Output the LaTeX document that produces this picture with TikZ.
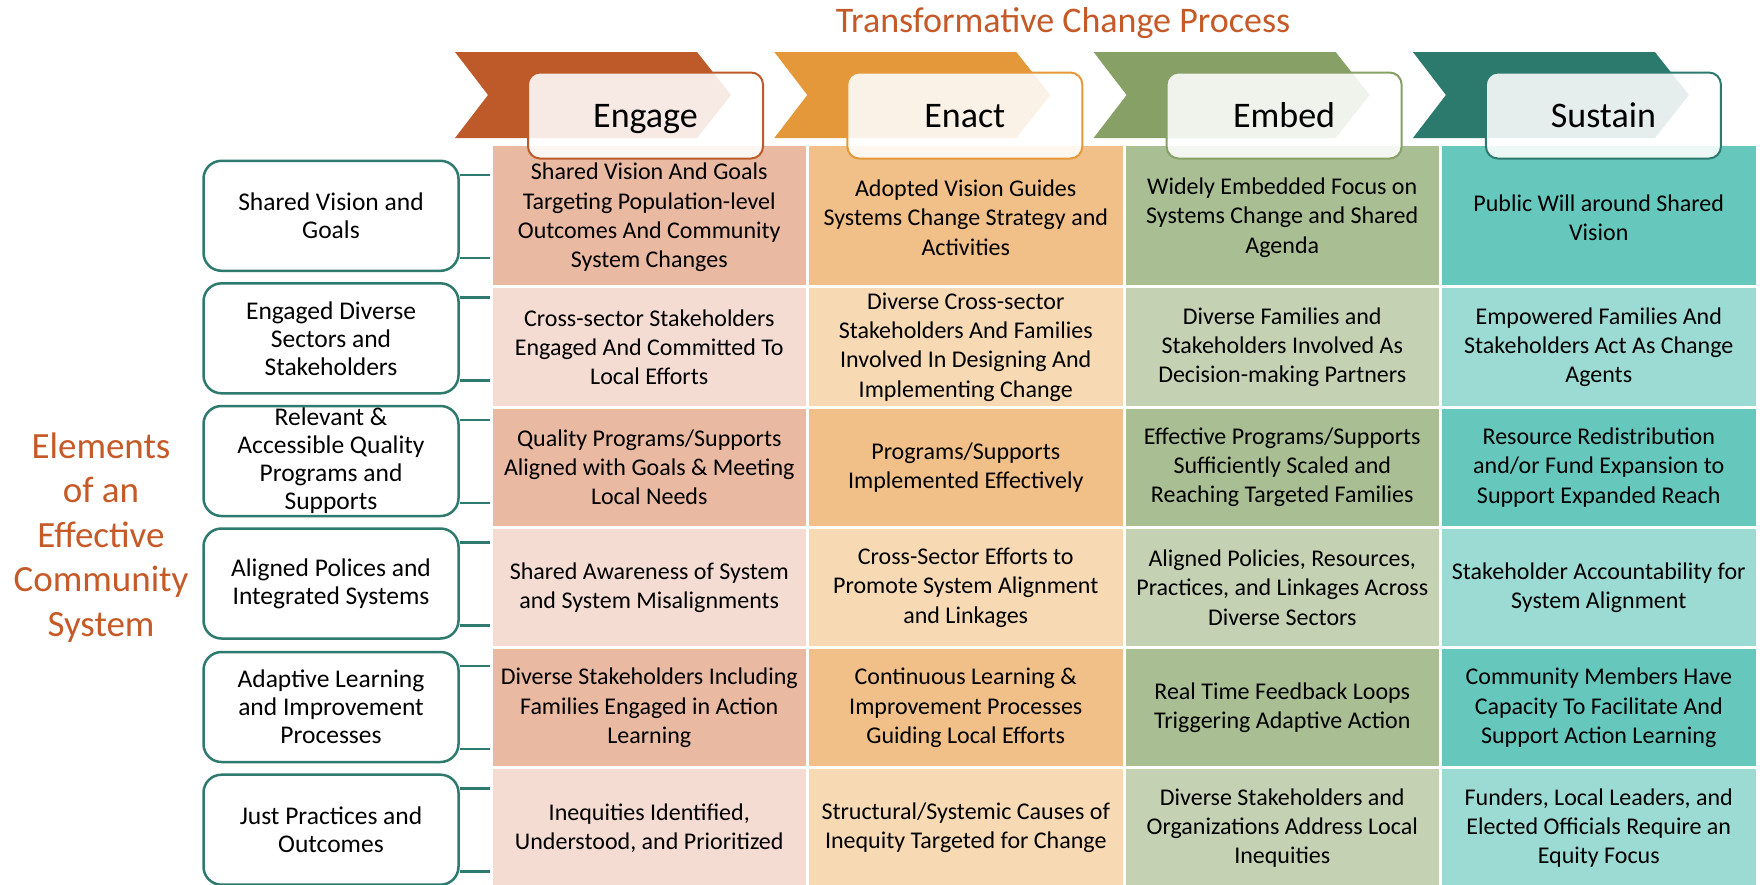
\documentclass[tikz,border=0pt]{standalone}
\usepackage{fontspec}
\setmainfont{Carlito}
\definecolor{engC}{RGB}{190,90,42}
\definecolor{enaC}{RGB}{229,152,58}
\definecolor{embC}{RGB}{134,160,101}
\definecolor{susC}{RGB}{44,122,110}
\definecolor{engD}{RGB}{233,185,162}
\definecolor{engL}{RGB}{244,220,210}
\definecolor{enaD}{RGB}{240,192,136}
\definecolor{enaL}{RGB}{247,217,180}
\definecolor{embD}{RGB}{169,190,146}
\definecolor{embL}{RGB}{196,209,178}
\definecolor{susD}{RGB}{102,199,189}
\definecolor{susL}{RGB}{156,219,211}
\definecolor{titleC}{RGB}{197,90,40}
\definecolor{tealB}{RGB}{46,122,110}
\begin{document}
\begin{tikzpicture}[x=1pt,y=-1pt,
  cell/.style={draw=white, line width=3pt, minimum width=316.5pt, inner sep=0pt, align=center, font=\fontsize{24}{29.3}\selectfont, text=black},
  r1/.style={cell, minimum height=147pt},
  rr/.style={cell, minimum height=120.25pt},
  elem/.style={draw=tealB, line width=2.5pt, fill=white, rounded corners=18pt, minimum width=255pt, minimum height=110pt, inner sep=0pt, align=center, font=\fontsize{25.5}{28}\selectfont},
  hbox/.style={rounded corners=12pt, fill=white, fill opacity=0.88, text opacity=1, line width=2pt, minimum width=235pt, minimum height=86pt, inner sep=0pt, text height=26pt, text depth=2pt, font=\fontsize{36}{40}\selectfont},
  conn/.style={draw=tealB, line width=2.5pt}]
\useasboundingbox (0,0) rectangle (1763,884);
\fill[white] (0,0) rectangle (1763,884);

% title
\node[font=\fontsize{36}{40}\selectfont, text=titleC, anchor=base] (title) at (1063,32) {Transformative Change Process};

% left label
\node[font=\fontsize{37}{44.6}\selectfont, text=titleC, align=center] (elements) at (101,537.5) {Elements\\of an\\Effective\\Community\\System};

% chevrons
\foreach \i/\c in {0/engC,1/enaC,2/embC,3/susC}
  \fill[\c] ({455+319.3*\i},52) -- ++(242,0) -- ++(34,43) -- ++(-34,43) -- ++(-242,0) -- ++(33,-43) -- cycle;

% cells row 1
\node[r1, fill=engD] (c11) at (649.25,217.5) {Shared Vision And Goals\\Targeting Population-level\\Outcomes And Community\\System Changes};
\node[r1, fill=enaD] (c12) at (965.75,217.5) {Adopted Vision Guides\\Systems Change Strategy and\\Activities};
\node[r1, fill=embD] (c13) at (1282.25,217.5) {Widely Embedded Focus on\\Systems Change and Shared\\Agenda};
\node[r1, fill=susD] (c14) at (1598.75,217.5) {Public Will around Shared\\Vision};
% row 2
\node[rr, fill=engL] (c21) at (649.25,347.1) {Cross-sector Stakeholders\\Engaged And Committed To\\Local Efforts};
\node[rr, fill=enaL] (c22) at (965.75,347.1) {Diverse Cross-sector\\Stakeholders And Families\\Involved In Designing And\\Implementing Change};
\node[rr, fill=embL] (c23) at (1282.25,347.1) {Diverse Families and\\Stakeholders Involved As\\Decision-making Partners};
\node[rr, fill=susL] (c24) at (1598.75,347.1) {Empowered Families And\\Stakeholders Act As Change\\Agents};
% row 3
\node[rr, fill=engD] (c31) at (649.25,467.4) {Quality Programs/Supports\\Aligned with Goals \& Meeting\\Local Needs};
\node[rr, fill=enaD] (c32) at (965.75,467.4) {Programs/Supports\\Implemented Effectively};
\node[rr, fill=embD] (c33) at (1282.25,467.4) {Effective Programs/Supports\\Sufficiently Scaled and\\Reaching Targeted Families};
\node[rr, fill=susD] (c34) at (1598.75,467.4) {Resource Redistribution\\and/or Fund Expansion to\\Support Expanded Reach};
% row 4
\node[rr, fill=engL] (c41) at (649.25,587.6) {Shared Awareness of System\\and System Misalignments};
\node[rr, fill=enaL] (c42) at (965.75,587.6) {Cross-Sector Efforts to\\Promote System Alignment\\and Linkages};
\node[rr, fill=embL] (c43) at (1282.25,587.6) {Aligned Policies, Resources,\\Practices, and Linkages Across\\Diverse Sectors};
\node[rr, fill=susL] (c44) at (1598.75,587.6) {Stakeholder Accountability for\\System Alignment};
% row 5
\node[rr, fill=engD] (c51) at (649.25,707.9) {Diverse Stakeholders Including\\Families Engaged in Action\\Learning};
\node[rr, fill=enaD] (c52) at (965.75,707.9) {Continuous Learning \&\\Improvement Processes\\Guiding Local Efforts};
\node[rr, fill=embD] (c53) at (1282.25,707.9) {Real Time Feedback Loops\\Triggering Adaptive Action};
\node[rr, fill=susD] (c54) at (1598.75,707.9) {Community Members Have\\Capacity To Facilitate And\\Support Action Learning};
% row 6
\node[rr, fill=engL] (c61) at (649.25,828) {Inequities Identified,\\Understood, and Prioritized};
\node[rr, fill=enaL] (c62) at (965.75,828) {Structural/Systemic Causes of\\Inequity Targeted for Change};
\node[rr, fill=embL] (c63) at (1282.25,828) {Diverse Stakeholders and\\Organizations Address Local\\Inequities};
\node[rr, fill=susL] (c64) at (1598.75,828) {Funders, Local Leaders, and\\Elected Officials Require an\\Equity Focus};

% header boxes
\node[hbox, draw=engC] (h1) at (645.5,115.5) {Engage};
\node[hbox, draw=enaC] (h2) at (964.8,115.5) {Enact};
\node[hbox, draw=embC] (h3) at (1284.1,115.5) {Embed};
\node[hbox, draw=susC] (h4) at (1603.4,115.5) {Sustain};

% element boxes
\node[elem] (b1) at (331,215.8) {Shared Vision and\\Goals};
\node[elem] (b2) at (331,338.3) {Engaged Diverse\\Sectors and\\Stakeholders};
\node[elem] (b3) at (331,461) {Relevant \&\\Accessible Quality\\Programs and\\Supports};
\node[elem] (b4) at (331,583.5) {Aligned Polices and\\Integrated Systems};
\node[elem] (b5) at (331,707) {Adaptive Learning\\and Improvement\\Processes};
\node[elem] (b6) at (331,829.7) {Just Practices and\\Outcomes};

% connectors
\foreach \b/\c in {b1/c11,b2/c21,b3/c31,b4/c41,b5/c51,b6/c61} {
  \draw[conn] ([yshift=41pt]\b.east) -- ([yshift=41pt]\b.east -| \c.west);
  \draw[conn] ([yshift=-42pt]\b.east) -- ([yshift=-42pt]\b.east -| \c.west);
}
\end{tikzpicture}
\end{document}
